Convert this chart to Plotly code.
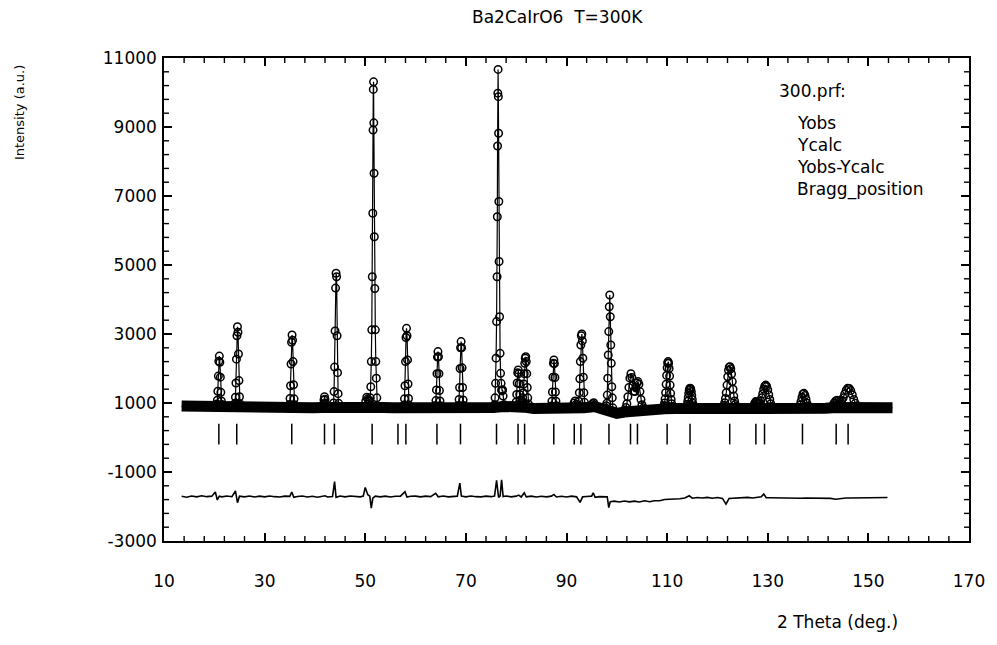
import plotly.graph_objects as go

# ---------------- data ----------------
# observed points (2theta, counts), grouped peak by peak
obs_two_theta = [
    20.4, 20.5, 20.6, 20.7, 20.8, 20.9, 21.0, 21.1, 21.2, 21.3, 21.4, 21.5, 21.6,
    24.0, 24.1, 24.2, 24.3, 24.4, 24.5, 24.6, 24.7, 24.8, 24.9, 25.0, 25.1, 25.2,
    34.85, 34.95, 35.05, 35.15, 35.25, 35.35, 35.45, 35.55, 35.65, 35.75, 35.85, 35.95, 36.05,
    41.5, 41.7, 41.8, 41.9, 42.0, 42.1, 42.3,
    43.6, 43.7, 43.8, 43.9, 44.0, 44.1, 44.2, 44.3, 44.4, 44.5, 44.6, 44.7, 44.8,
    49.8, 50.1, 50.3, 50.5, 50.7,
    50.9, 51.0, 51.1, 51.2, 51.3, 51.4, 51.5, 51.55, 51.6, 51.65, 51.7, 51.75, 51.8, 51.9, 52.0, 52.1, 52.2, 52.3, 52.4,
    57.6, 57.7, 57.8, 57.9, 58.0, 58.1, 58.2, 58.3, 58.4, 58.5, 58.6, 58.7, 58.8,
    63.85, 63.95, 64.05, 64.15, 64.25, 64.35, 64.45, 64.55, 64.65, 64.75, 64.85, 64.95, 65.05,
    68.45, 68.55, 68.65, 68.75, 68.85, 68.95, 69.05, 69.15, 69.25, 69.35, 69.45, 69.55, 69.65,
    75.6, 75.7, 75.8, 75.9, 76.0, 76.1, 76.2, 76.25, 76.3, 76.35, 76.4, 76.45, 76.5, 76.55, 76.6, 76.7, 76.8, 76.9, 77.0, 77.1, 77.2, 77.3, 77.4, 77.6, 77.8,
    79.8, 79.9, 80.0, 80.1, 80.2, 80.3, 80.4, 80.5, 80.6, 80.7, 80.8, 80.9, 81.0, 81.1,
    81.2, 81.3, 81.4, 81.5, 81.6, 81.7, 81.8, 81.9, 82.0, 82.1, 82.2, 82.3, 82.4, 82.5,
    86.9, 87.0, 87.1, 87.2, 87.3, 87.4, 87.5, 87.6, 87.7, 87.8, 87.9, 88.0, 88.1,
    91.2, 91.5, 91.7, 91.9,
    92.25, 92.35, 92.45, 92.55, 92.65, 92.75, 92.85, 92.95, 93.05, 93.15, 93.25, 93.35, 93.45, 93.55, 93.65,
    94.9, 95.2, 95.4, 95.7,
    97.8, 97.9, 98.0, 98.1, 98.2, 98.3, 98.4, 98.5, 98.6, 98.7, 98.8, 98.9, 99.0, 99.1, 99.2, 99.3, 99.4,
    100.0, 100.5, 101.0, 101.4, 101.6, 101.8, 102.0, 102.2, 102.4, 102.6, 102.8, 103.0,
    103.2, 103.4, 103.6, 103.8, 104.0, 104.2, 104.4, 104.6, 104.8, 105.0, 105.3, 105.6,
    109.2, 109.3, 109.4, 109.5, 109.6, 109.7, 109.8, 109.9, 110.0, 110.1, 110.2,
    110.3, 110.4, 110.5, 110.6, 110.7, 110.8, 110.9, 111.0, 111.1, 111.2,
    113.7, 113.8, 113.9, 114.0, 114.1, 114.2, 114.3, 114.4, 114.5, 114.6,
    114.7, 114.8, 114.9, 115.0, 115.1, 115.2, 115.3, 115.4, 115.5,
    121.0, 121.15, 121.3, 121.45, 121.6, 121.75, 121.9, 122.05, 122.2, 122.35, 122.5,
    122.65, 122.8, 122.95, 123.1, 123.25, 123.4, 123.55, 123.7, 123.85, 124.0,
    127.0, 127.2, 127.4, 127.6, 127.8, 128.0, 128.2, 128.4, 128.6, 128.8, 129.0,
    129.2, 129.4, 129.6, 129.8, 130.0, 130.2, 130.4, 130.6, 130.8, 131.0,
    136.0, 136.2, 136.4, 136.6, 136.8, 137.0, 137.2, 137.4, 137.6, 137.8, 138.0, 138.2,
    142.6, 142.9, 143.2, 143.5, 143.8, 144.1, 144.4, 144.7, 145.0, 145.3,
    145.6, 145.9, 146.2, 146.5, 146.8, 147.1, 147.4, 147.7, 148.0,
]
obs_counts = [
    930, 970, 1080, 1340, 1780, 2210, 2360, 2180, 1750, 1310, 1060, 960, 920,
    920, 990, 1170, 1580, 2270, 2950, 3210, 3050, 2420, 1650, 1180, 970, 910,
    900, 960, 1130, 1500, 2130, 2760, 2970, 2820, 2200, 1530, 1120, 950, 890,
    880, 960, 1090, 1180, 1110, 990, 880,
    900, 1000, 1330, 2040, 3090, 4330, 4760, 4660, 2950, 1880, 1270, 990, 890,
    880, 1050, 1170, 1120, 1080,
    1050, 1150, 1470, 2200, 3120, 4660, 6500, 8910, 10090, 10310, 9120, 7660, 5820, 4320, 3120, 2200, 1720, 1150, 920,
    880, 940, 1120, 1500, 2200, 2900, 3165, 2950, 2250, 1550, 1130, 940, 870,
    870, 930, 1070, 1380, 1850, 2330, 2490, 2340, 1850, 1360, 1060, 920, 870,
    870, 930, 1100, 1450, 2000, 2600, 2780, 2600, 2020, 1450, 1090, 930, 870,
    900, 950, 1150, 1570, 2300, 3360, 4660, 6400, 8450, 9980, 10670, 9880, 8820, 6840, 5100, 3500, 2440, 1860, 1570, 1380, 1350, 1380, 1200, 950, 880,
    870, 920, 1030, 1250, 1580, 1880, 1960, 1850, 1560, 1250, 1080, 1000, 990, 1000,
    1050, 1150, 1300, 1550, 1850, 2150, 2300, 2340, 2200, 1850, 1450, 1150, 980, 880,
    860, 910, 1050, 1320, 1750, 2150, 2250, 2140, 1740, 1320, 1050, 920, 860,
    870, 1000, 1060, 960,
    880, 930, 1050, 1300, 1700, 2200, 2680, 2950, 3000, 2800, 2300, 1750, 1300, 1020, 890,
    860, 980, 1010, 870,
    860, 920, 990, 1230, 1720, 2390, 3070, 3790, 4130, 3500, 2680, 2150, 1470, 1150, 860, 760, 720,
    700, 700, 720, 760, 800, 870, 980, 1180, 1450, 1720, 1850, 1740,
    1500, 1340, 1330, 1450, 1580, 1620, 1540, 1330, 1100, 950, 860, 820,
    840, 870, 920, 1000, 1120, 1300, 1540, 1800, 2020, 2160, 2200,
    2150, 2000, 1780, 1520, 1280, 1100, 980, 900, 860, 840,
    840, 860, 900, 960, 1050, 1160, 1280, 1370, 1420, 1430,
    1400, 1330, 1220, 1100, 990, 920, 870, 850, 840,
    850, 880, 930, 1010, 1130, 1300, 1520, 1760, 1950, 2040, 2050,
    1990, 1840, 1620, 1400, 1200, 1060, 960, 900, 865, 850,
    860, 920, 990, 1040, 1030, 1000, 990, 1010, 1060, 1150, 1270,
    1400, 1490, 1520, 1480, 1380, 1240, 1100, 980, 900, 860,
    850, 880, 940, 1040, 1160, 1260, 1280, 1220, 1110, 990, 910, 860,
    860, 920, 1000, 1060, 1080, 1070, 1060, 1080, 1150, 1260,
    1370, 1430, 1420, 1360, 1240, 1100, 990, 910, 870,
]

# dense background of the observed pattern (merged circles)
bg_two_theta = [13.5, 15.5, 17.5, 19.5, 21.5, 23.5, 25.5, 27.5, 29.5, 31.5, 33.5, 35.5,
                37.5, 39.5, 41.5, 43.5, 45.5, 47.5, 49.5, 51.5, 53.5, 55.5, 57.5, 59.5,
                61.5, 63.5, 65.5, 67.5, 69.5, 71.5, 73.5, 75.5, 77.5, 79.5, 81.5, 83.5,
                85.5, 87.5, 89.5, 91.5, 93.5, 95.5, 97.5, 99.0, 100.0, 101.5, 103.5, 105.5,
                107.5, 109.5, 111.5, 113.5, 115.5, 117.5, 119.5, 121.5, 123.5, 125.5,
                127.5, 129.5, 131.5, 133.5, 135.5, 137.5, 139.5, 141.5, 143.5, 145.5,
                147.5, 149.5, 151.5, 153.5, 154.8]
bg_counts = [910, 900, 895, 890, 900, 895, 900, 880, 870, 875, 865, 880,
             870, 860, 870, 880, 870, 860, 870, 900, 870, 860, 855, 860,
             850, 855, 850, 845, 855, 850, 845, 870, 900, 850, 880, 840,
             835, 845, 840, 870, 860, 900, 830, 760, 700, 740, 780, 810,
             820, 830, 840, 835, 840, 830, 840, 850, 845, 835,
             860, 850, 845, 840, 845, 855, 840, 845, 870, 860,
             850, 840, 845, 850, 860]

# difference curve Yobs - Ycalc (offset as plotted)
diff_two_theta = [13.5, 14.5, 15.5, 16.5, 17.5, 18.5, 19.5, 20.2, 20.6, 21.0, 21.5, 22.5,
                  23.5, 24.2, 24.6, 25.0, 26, 27, 28, 29, 30, 31, 32, 33, 34, 35.0, 35.4,
                  35.8, 36.5, 37.5, 38.5, 39.5, 40.5, 41.5, 42.0, 42.5, 43.5, 43.9, 44.2,
                  45.0, 46, 47, 48, 49, 49.6, 50.0, 50.5, 50.9, 51.2, 51.5, 52.0, 53, 54,
                  55, 56, 57, 57.9, 58.3, 59, 60, 61, 62, 63, 64.0, 64.5, 65.5, 66.5, 67.5,
                  68.3, 68.8, 69.1, 70, 71, 72, 73, 74, 75, 75.7, 76.1, 76.5, 76.8, 77.1,
                  77.4, 78, 79, 80, 80.5, 81, 81.6, 82, 83, 84, 85, 86, 87, 87.5, 88, 89,
                  90, 91, 92, 92.7, 93.2, 94, 95.0, 95.3, 95.7, 96.5, 97.5, 98.1, 98.4,
                  98.7, 99.5, 100.5, 101.5, 102.5, 103.5, 104.5, 105.5, 106.5, 107.5,
                  108.5, 109.5, 110.5, 111.5, 112.5, 113.5, 114.4, 115, 116, 117, 118,
                  119, 120, 121, 121.7, 122.3, 123, 124, 125, 126, 127, 128, 128.7, 129.2,
                  129.7, 130.5, 131.5, 132.5, 133.5, 134.5, 135.5, 136.5, 137.5, 138.5,
                  139.5, 140.5, 141.5, 142.5, 143.5, 144.5, 145.5, 146.5, 147.5, 148.5,
                  149.5, 150.5, 151.5, 152.5, 153.8]
diff_counts = [-1705, -1730, -1695, -1720, -1690, -1715, -1700, -1580, -1810, -1700, -1720, -1695,
               -1715, -1550, -1890, -1700, -1720, -1695, -1725, -1700, -1720, -1695, -1715, -1725, -1700, -1705, -1580,
               -1735, -1710, -1695, -1725, -1705, -1730, -1705, -1690, -1725, -1710, -1280, -1735,
               -1695, -1720, -1695, -1715, -1720, -1700, -1450, -1660, -1700, -2050, -1760, -1700, -1720, -1700,
               -1725, -1705, -1700, -1570, -1725, -1705, -1700, -1720, -1700, -1715, -1620, -1720, -1695, -1720, -1700,
               -1700, -1320, -1700, -1720, -1695, -1715, -1720, -1700, -1715, -1700, -1240, -1740, -1700, -1230,
               -1710, -1695, -1720, -1700, -1670, -1725, -1600, -1720, -1700, -1725, -1705, -1720, -1700, -1650, -1725, -1705,
               -1725, -1700, -1720, -1880, -1720, -1710, -1700, -1600, -1735, -1715, -1730, -1720, -2030,
               -1860, -1845, -1870, -1840, -1865, -1845, -1870, -1835, -1860, -1835,
               -1835, -1795, -1795, -1775, -1775, -1755, -1690, -1760, -1740, -1755, -1735,
               -1760, -1740, -1765, -1930, -1770, -1765, -1745, -1750, -1735, -1755, -1740, -1720, -1640,
               -1745, -1745, -1750, -1750, -1755, -1755, -1760, -1760, -1755, -1755,
               -1760, -1760, -1755, -1765, -1790, -1765, -1755, -1755, -1750, -1750,
               -1745, -1745, -1745, -1740, -1740]

# Bragg reflection positions
bragg_two_theta = [20.9, 24.46, 35.39, 41.9, 43.87, 51.37, 56.5, 58.08, 64.25, 68.93,
                   76.09, 80.37, 81.67, 87.47, 91.54, 92.86, 98.44, 102.72, 104.1,
                   110.0, 114.55, 122.44, 127.64, 129.36, 136.9, 143.6, 145.97]
bragg_tick_top = 400
bragg_tick_bottom = -200

x_range = [10, 170]
y_range = [-3000, 11000]
x_major_step, x_minor_step = 20, 4
y_major_step, y_minor_step = 2000, 400
y_tick_vals = [-3000, -1000, 1000, 3000, 5000, 7000, 9000, 11000]
y_tick_text = ["-3000", "-1000", "1000", "3000", "5000", "7000", "9000", "11000"]

assert len(obs_two_theta) == len(obs_counts)
assert len(bg_two_theta) == len(bg_counts)
assert len(diff_two_theta) == len(diff_counts)

# ---------------- derived series ----------------
calc_pts = list(zip(obs_two_theta, obs_counts))
for bx, by in zip(bg_two_theta, bg_counts):
    if all(abs(bx - ox) > 0.35 for ox in obs_two_theta):
        calc_pts.append((bx, by))
calc_pts.sort()
calc_x = [p[0] for p in calc_pts]
calc_y = [p[1] for p in calc_pts]

bragg_x, bragg_y = [], []
for b in bragg_two_theta:
    bragg_x += [b, b, None]
    bragg_y += [bragg_tick_top, bragg_tick_bottom, None]

L, R, T, B = 164, 22, 58, 104
W, H = 997, 645
pw, ph = W - L - R, H - T - B

# minor ticks (inside, on all four sides) drawn as a line trace in axis units
MINOR_LEN = 5
dx_tick = (x_range[1] - x_range[0]) / pw * MINOR_LEN
dy_tick = (y_range[1] - y_range[0]) / ph * MINOR_LEN
minor_x, minor_y = [], []
v = x_range[0]
while v <= x_range[1] + 1e-9:
    if (v - x_range[0]) % x_major_step != 0:
        minor_x += [v, v, None, v, v, None]
        minor_y += [y_range[0], y_range[0] + dy_tick, None, y_range[1] - dy_tick, y_range[1], None]
    v += x_minor_step
v = y_range[0]
while v <= y_range[1] + 1e-9:
    if (v - y_range[0]) % y_major_step != 0:
        minor_x += [x_range[0], x_range[0] + dx_tick, None, x_range[1] - dx_tick, x_range[1], None]
        minor_y += [v, v, None, v, v, None]
    v += y_minor_step

FONT = "DejaVu Sans"
fig = go.Figure()

fig.add_trace(go.Scatter(x=bg_two_theta, y=bg_counts, mode="lines",
                         line=dict(color="black", width=11), hoverinfo="skip",
                         showlegend=False))
fig.add_trace(go.Scatter(x=calc_x, y=calc_y, mode="lines", name="Ycalc",
                         line=dict(color="black", width=1.2), showlegend=False))
fig.add_trace(go.Scatter(x=obs_two_theta, y=obs_counts, mode="markers", name="Yobs",
                         marker=dict(symbol="circle-open", size=7.5, color="black",
                                     line=dict(width=1.5, color="black")),
                         showlegend=False))
fig.add_trace(go.Scatter(x=diff_two_theta, y=diff_counts, mode="lines", name="Yobs-Ycalc",
                         line=dict(color="black", width=1.6), showlegend=False))
fig.add_trace(go.Scatter(x=bragg_x, y=bragg_y, mode="lines", name="Bragg_position",
                         line=dict(color="black", width=1.5), showlegend=False))
fig.add_trace(go.Scatter(x=minor_x, y=minor_y, mode="lines", hoverinfo="skip",
                         line=dict(color="black", width=1.4), showlegend=False))


def px(xp):
    return (xp - L) / pw


def py(yp):
    return (H - B - yp) / ph


annotations = [
    dict(text="Ba2CaIrO6\u00a0\u00a0T=300K", x=px(560), y=py(17), xanchor="center", yanchor="middle",
         font=dict(size=17, family=FONT, color="black")),
    dict(text="Intensity (a.u.)", x=px(18), y=py(113), textangle=-90, xanchor="center",
         yanchor="middle", font=dict(size=13, family=FONT, color="black")),
    dict(text="2 Theta (deg.)", x=px(843), y=py(622), xanchor="center", yanchor="middle",
         font=dict(size=17, family=FONT, color="black")),
    dict(text="300.prf:", x=px(782), y=py(91), xanchor="left", yanchor="middle",
         font=dict(size=17, family=FONT, color="black")),
    dict(text="Yobs", x=px(800), y=py(123), xanchor="left", yanchor="middle",
         font=dict(size=17, family=FONT, color="black")),
    dict(text="Ycalc", x=px(800), y=py(145), xanchor="left", yanchor="middle",
         font=dict(size=17, family=FONT, color="black")),
    dict(text="Yobs-Ycalc", x=px(800), y=py(167), xanchor="left", yanchor="middle",
         font=dict(size=17, family=FONT, color="black")),
    dict(text="Bragg_position", x=px(800), y=py(190), xanchor="left", yanchor="middle",
         font=dict(size=17, family=FONT, color="black")),
]
for a in annotations:
    a.update(xref="paper", yref="paper", showarrow=False)

axis_common = dict(showgrid=False, zeroline=False, showline=True, linecolor="black",
                   linewidth=1.5, mirror="allticks", ticks="inside", tickcolor="black",
                   tickwidth=1.5, ticklen=8,
                   tickfont=dict(size=17, family=FONT, color="black"))

fig.update_layout(
    width=W, height=H,
    margin=dict(l=L, r=R, t=T, b=B),
    paper_bgcolor="white", plot_bgcolor="white",
    showlegend=False,
    annotations=annotations,
    xaxis=dict(range=x_range, tickmode="linear", tick0=x_range[0], dtick=x_major_step,
               ticklabelstandoff=24, **axis_common),
    yaxis=dict(range=y_range, tickmode="array", tickvals=y_tick_vals, ticktext=y_tick_text,
               ticklabelstandoff=2, **axis_common),
)

fig.write_html("out.html")
